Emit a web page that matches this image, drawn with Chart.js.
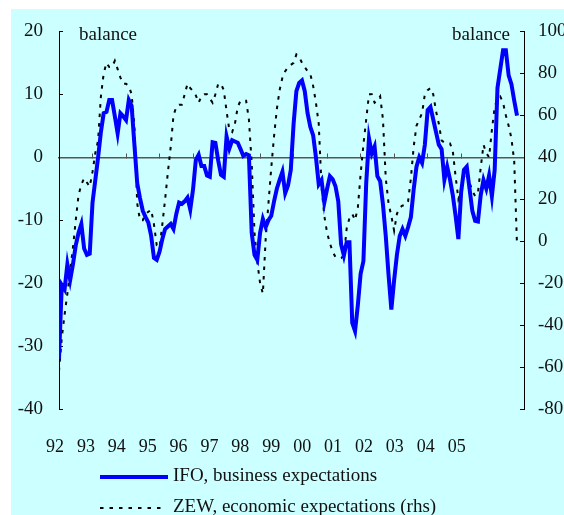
<!DOCTYPE html>
<html>
<head>
<meta charset="utf-8">
<script src="https://cdn.jsdelivr.net/npm/chart.js@4"></script>
<style>
  html, body { margin: 0; padding: 0; background: #fff; }
  #wrap { width: 564px; height: 515px; }
</style>
</head>
<body>
<div id="wrap"><canvas id="chart" width="564" height="515"></canvas></div>
<script>
// year labels on the bottom axis
const yearLabels = ['92', '93', '94', '95', '96', '97', '98', '99', '00', '01', '02', '03', '04', '05'];

// IFO business expectations, balance (left axis), monthly from Jan 1992
const ifoExpectations = [
  -32, -20.3, -21, -17, -19.5, -17, -14, -12, -10.6, -14.5, -15.5, -15.3,
  -7.2, -3.6, 0, 4, 7, 7.2, 9.1, 9.1, 6.5, 3.8, 7, 6.5,
  5.9, 9.1, 8.2, 2, -4.1, -6.5, -8.5, -9.5, -10.4, -12.5, -16, -16.3,
  -15, -13, -11.4, -11, -10.6, -11.4, -9, -7.2, -7.4, -7, -6.4, -8.3,
  -5.1, -0.4, 0.4, -1.4, -1.4, -2.9, -3.1, 2.4, 2.3, -0.5, -2.8, -3.1,
  3.3, 1.4, 2.7, 2.5, 2.3, 1.3, 0.2, 0.5, 0.3, -12, -15.5, -16.3,
  -12, -9.8, -11.1, -10, -9.3, -7, -5, -3.6, -2.3, -5.7, -4.5, -2,
  5.3, 10.5, 11.8, 12.2, 10.5, 7, 4.8, 3.5, 0, -4.3, -3.6, -7.2,
  -5, -3, -3.5, -4.6, -7, -13.8, -15.6, -13.5, -13.5, -26.3, -27.6, -23.5,
  -18.5, -16.5, -4.1, 3, 0.6, 1.7, -3, -3.8, -7.5, -12.5, -18.7, -24.2,
  -19.5, -15.5, -12.5, -11.4, -12.5, -11.1, -9.5, -5.1, -1.5, 0, -0.9, 2,
  7.5, 8, 6, 4, 2, 1.3, -3.6, -1.5, -3.5, -6, -9.3, -13,
  -5.5, -2, -1.5, -5, -8.5, -10.1, -10.2, -6, -3.6, -5, -2.9, -6.2,
  -2, 11, 14, 17, 17, 13, 11.6, 9, 6.6
];

// ZEW economic expectations, balance (right axis)
const zewExpectations = [
  -62, -46, -35, -25, -14, -3, 10, 22, 27, 30, 28, 26,
  33, 42, 48, 69, 80, 85, 83, 83, 86, 82, 78, 75,
  75, 74, 70, 55, 18, 10, 10, 13, 14, 15, 8, -2,
  -3, 8, 20, 33, 45, 60, 64, 65, 65, 70, 75, 73,
  71.5, 69.5, 66, 69, 70, 70, 68, 66, 70, 75, 75, 72,
  62, 53, 52, 56, 64, 67, 67, 67, 58, 37, 4, -10,
  -20, -25, 1, 18, 35, 50, 63, 72, 78, 81, 83, 84,
  85, 89, 88, 85, 83, 81, 79.6, 74, 66, 56, 26, 12,
  4, -1, -5, -7.6, -8, -8, -7, 6, 11, 13, 10, 16,
  32, 46, 58, 70, 70, 66, 67, 69, 58, 30, 18, 12,
  5, 13, 16, 17, 17, 19, 30, 45, 55, 58, 61, 70,
  72, 73, 70, 62, 56, 48, 47, 47, 46.6, 43, 31, 20,
  24, 32, 31, 28, 24, 21.5, 23, 35, 46, 42, 40, 53,
  64, 68, 69, 66, 60, 55, 49, 38, -2
];

const months = ifoExpectations.map((v, i) => i);

Chart.defaults.font.family = "'Liberation Serif', 'Times New Roman', serif";
Chart.defaults.color = '#111';

const BG = '#ccffff';
const fontMain = { family: "'Liberation Serif', serif", size: 19 };

const backgroundPlugin = {
  id: 'background',
  beforeDraw(chart) {
    const ctx = chart.ctx;
    ctx.save();
    ctx.fillStyle = '#ffffff';
    ctx.fillRect(0, 0, chart.width, chart.height);
    ctx.fillStyle = BG;
    ctx.fillRect(11, 9, chart.width - 11, chart.height - 9);
    ctx.restore();
  }
};

const textPlugin = {
  id: 'texts',
  afterDraw(chart) {
    const ctx = chart.ctx;
    const area = chart.chartArea;
    ctx.save();
    ctx.font = '19px ' + fontMain.family;
    ctx.fillStyle = '#111';
    ctx.textBaseline = 'middle';
    ctx.textAlign = 'left';
    ctx.fillText('balance', area.left + 20, area.top + 4);
    ctx.textAlign = 'right';
    ctx.fillText('balance', area.right - 14, area.top + 4);

    // legend
    const rows = [476, 507];
    chart.data.datasets.forEach((ds, i) => {
      const y = rows[i];
      ctx.beginPath();
      ctx.strokeStyle = ds.borderColor;
      ctx.lineWidth = ds.borderWidth;
      ctx.setLineDash(ds.borderDash || []);
      ctx.moveTo(100, y + 1);
      ctx.lineTo(i === 0 ? 168 : 163, y + 1);
      ctx.stroke();
      ctx.setLineDash([]);
      ctx.textAlign = 'left';
      ctx.fillText(ds.label, 173, y);
    });
    ctx.restore();
  }
};

new Chart(document.getElementById('chart'), {
  type: 'line',
  data: {
    labels: months,
    datasets: [
      {
        label: 'IFO, business expectations',
        data: ifoExpectations,
        yAxisID: 'y',
        borderColor: '#0000ff',
        borderWidth: 4,
        pointRadius: 0,
        tension: 0,
        fill: false
      },
      {
        label: 'ZEW, economic expectations (rhs)',
        data: zewExpectations,
        yAxisID: 'y2',
        borderColor: '#000000',
        borderWidth: 2,
        borderDash: [3.5, 6],
        pointRadius: 0,
        tension: 0,
        fill: false
      }
    ]
  },
  options: {
    responsive: false,
    animation: false,
    layout: { padding: { top: 27, left: 0, right: 0, bottom: 0 } },
    plugins: {
      legend: { display: false },
      tooltip: { enabled: false }
    },
    scales: {
      x: {
        type: 'linear',
        min: 0,
        max: 166.5,
        position: { y: 0 },
        grid: { display: true, drawOnChartArea: false, drawTicks: true, tickLength: -5, color: '#555', lineWidth: 1 },
        border: { display: true, color: '#555', width: 1.5 },
        ticks: { display: false, stepSize: 12 }
      },
      years: {
        type: 'linear',
        axis: 'x',
        position: 'bottom',
        min: 0.13,
        max: 15.18,
        grid: { display: false },
        border: { display: false },
        afterBuildTicks: s => { s.ticks = yearLabels.map((l, i) => ({ value: i })); },
        afterFit: s => { s.height = 106; },
        ticks: {
          autoSkip: false,
          maxRotation: 0,
          padding: 19,
          font: { size: 18 },
          callback: v => yearLabels[v]
        }
      },
      y: {
        position: 'left',
        min: -40,
        max: 20,
        afterFit: s => { s.width = 59; },
        grid: { drawOnChartArea: false, tickLength: -4, color: '#000' },
        border: { color: '#000', width: 1 },
        ticks: { stepSize: 10, padding: 20, font: { size: 19 } }
      },
      y2: {
        position: 'right',
        min: -80,
        max: 100,
        afterFit: s => { s.width = 40; },
        grid: { drawOnChartArea: false, tickLength: -4, color: '#000' },
        border: { color: '#000', width: 1 },
        ticks: { stepSize: 20, padding: 18, font: { size: 19 } }
      }
    }
  },
  plugins: [backgroundPlugin, textPlugin]
});
</script>
</body>
</html>
